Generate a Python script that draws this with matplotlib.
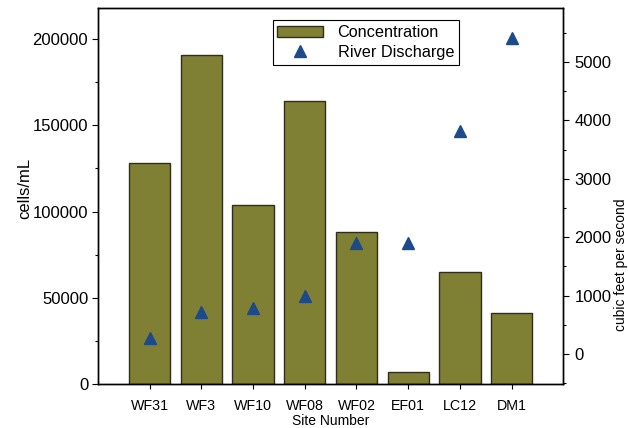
import matplotlib.pyplot as plt
from matplotlib.ticker import MultipleLocator

plt.rcParams['font.family'] = ['Liberation Sans', 'DejaVu Sans']

sites = ['WF31', 'WF3', 'WF10', 'WF08', 'WF02', 'EF01', 'LC12', 'DM1']
concentration = [128000, 191000, 104000, 164000, 88000, 7000, 65000, 41000]
discharge = [280, 720, 780, 1000, 1900, 1900, 3820, 5420]

fig = plt.figure(figsize=(6.28, 4.28), dpi=100)
ax = fig.add_axes([0.156, 0.103, 0.741, 0.878])
ax2 = ax.twinx()

x = list(range(len(sites)))
bars = ax.bar(x, concentration, width=0.8, color='#808035', edgecolor='#2e2e1a',
              linewidth=1, label='Concentration')
tri, = ax2.plot(x, discharge, linestyle='none', marker='^', markersize=9,
                color='#1d4a8a', label='River Discharge')

ax.set_xlim(-1, 8)
ax.set_ylim(0, 218000)
ax2.set_ylim(-514, 5925)

ax.set_xticks(x)
ax.set_xticklabels(sites)
ax.yaxis.set_major_locator(MultipleLocator(50000))
ax.yaxis.set_minor_locator(MultipleLocator(25000))
ax2.yaxis.set_major_locator(MultipleLocator(1000))
ax2.yaxis.set_minor_locator(MultipleLocator(500))

for a in (ax, ax2):
    a.tick_params(which='major', direction='out', length=4.5, width=0.8, labelsize=12)
    a.tick_params(which='minor', direction='out', length=2.5, width=0.8)
    for s in a.spines.values():
        s.set_linewidth(1)
ax.tick_params(axis='y', pad=2.5)
ax2.tick_params(axis='y', pad=3.5)
ax.tick_params(axis='x', length=3.5, labelsize=10.3, pad=7.5)

ax.set_ylabel('cells/mL', fontsize=12)
ax.yaxis.set_label_coords(-0.142, 0.52)
ax.set_xlabel('Site Number', fontsize=10, labelpad=0.5)
ax2.set_ylabel('cubic feet per second', fontsize=10)
ax2.yaxis.set_label_coords(1.108, 0.316)

leg = ax2.legend([bars, tri], ['Concentration', 'River Discharge'],
                 loc='upper left', bbox_to_anchor=(0.434, 0.953),
                 bbox_transform=fig.transFigure, fontsize=11.7,
                 fancybox=False, framealpha=1, edgecolor='black',
                 handlelength=2.8, handletextpad=0.9, borderpad=0.3,
                 labelspacing=0.3, borderaxespad=0)
leg.get_frame().set_linewidth(0.8)

fig.savefig('out.png', dpi=100)
